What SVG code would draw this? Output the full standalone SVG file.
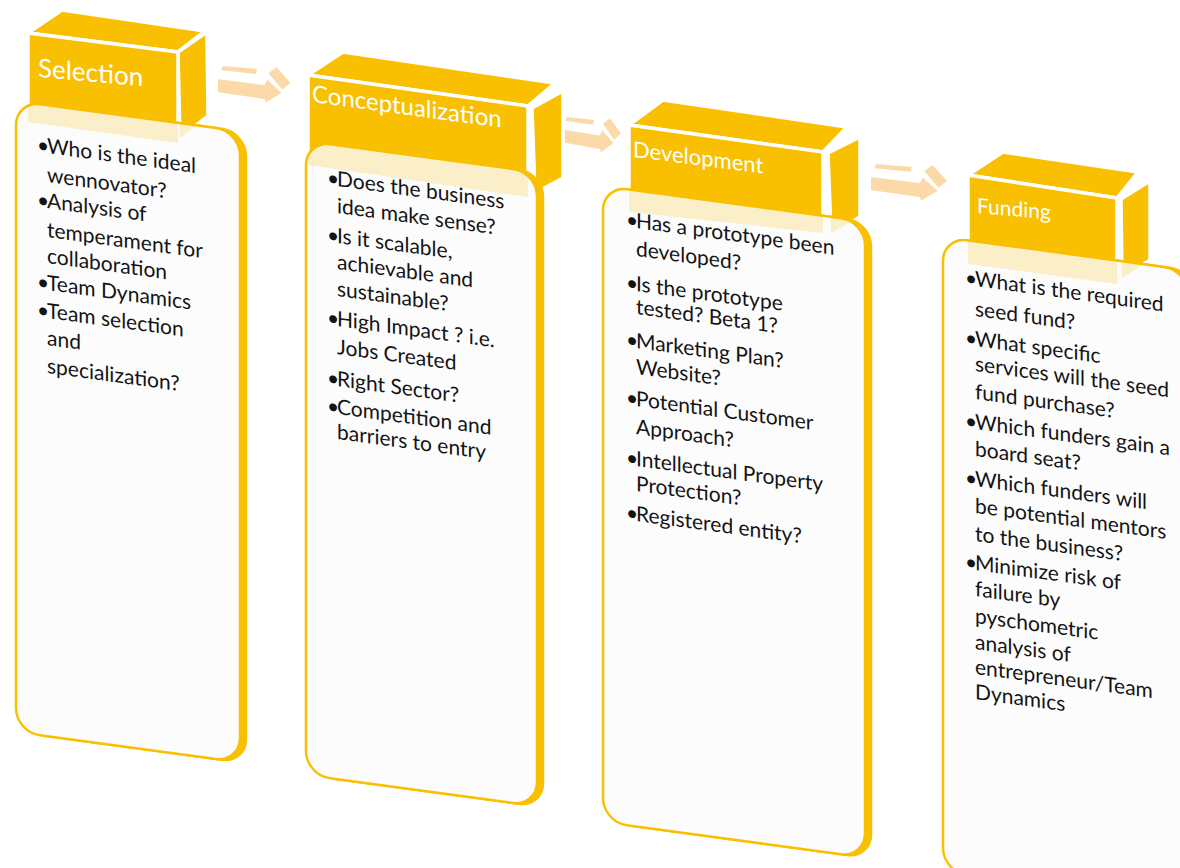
<svg xmlns="http://www.w3.org/2000/svg" width="1180" height="868" viewBox="0 0 1180 868">
<style>
.face{fill:#f8c000;stroke:#ffffff;stroke-width:3.5;stroke-linejoin:round}
.tint{fill:#f8c000;fill-opacity:0.2;stroke:none}
.card{fill:#fcfcfc;stroke:#f8c000;stroke-width:2.5}
.depth{fill:#f8c000;stroke:#f8c000;stroke-width:2.5}
.arrow{fill:#fcd9a8;stroke:#ffffff;stroke-width:2;stroke-linejoin:round}
.htxt{font-family:Lato,"Open Sans",sans-serif;fill:#ffffff}
.body{font-family:Lato,"Open Sans",sans-serif;font-size:21px;fill:#141414}
</style>
<defs>
<g id="arw">
<polygon class="arrow" points="0,13 47,19 50,13 66,28 48,39 47,35 0,28"/>
<polygon class="arrow" points="3,6 5,0 41,3 40,10"/>
<polygon class="arrow" points="50,8 60,1 75,18 65,26"/>
</g>
<clipPath id="c1"><rect transform="translate(16,101) skewY(7.7)" width="224" height="631" rx="24"/></clipPath>
<clipPath id="c2"><rect transform="translate(306,141) skewY(7.7)" width="231" height="634" rx="24"/></clipPath>
<clipPath id="c3"><rect transform="translate(603,186) skewY(7.7)" width="262" height="636" rx="24"/></clipPath>
<clipPath id="c4"><rect transform="translate(943,237) skewY(7.7)" width="245" height="635" rx="24"/></clipPath>
</defs>

<g id="connectors">
<use href="#arw" transform="translate(217,65)"/>
<use href="#arw" transform="translate(562,116) scale(0.8,0.97)"/>
<use href="#arw" transform="translate(870,163) scale(1.05,1)"/>
</g>

<g id="selection">
<polygon class="face" points="28,33 62,10 205,31 178,52"/>
<polygon class="face" points="178,52 207,32 208,116 180,138"/>
<polygon class="face" points="28,33 178,52 178,143 28,122"/>
<text class="htxt" font-size="26" transform="translate(38,77) skewY(5)">Selection</text>
<rect class="depth" transform="translate(16,101) skewY(7.7)" x="6" width="224" height="631" rx="24"/>
<rect class="card" transform="translate(16,101) skewY(7.7)" width="224" height="631" rx="24"/>
<g clip-path="url(#c1)">
<polygon class="tint" points="178,52 207,32 208,116 180,138"/>
<polygon class="tint" points="28,33 178,52 178,143 28,122"/>
</g>
<g class="body" transform="translate(16,101) skewY(7.7)">
<text x="21" y="47.8">•</text><text x="31" y="47.8">Who is the ideal</text>
<text x="31" y="76.8">wennovator?</text>
<text x="21" y="102.8">•</text><text x="31" y="102.8">Analysis of</text>
<text x="31" y="131.8">temperament for</text>
<text x="31" y="157.8">collaboration</text>
<text x="21" y="184.8">•</text><text x="31" y="184.8">Team Dynamics</text>
<text x="21" y="212.8">•</text><text x="31" y="212.8">Team selection</text>
<text x="31" y="239.8">and</text>
<text x="31" y="267.8">specialization?</text>
</g>
</g>

<g id="conceptualization">
<polygon class="face" points="308,75 343,52 555,83 528,106"/>
<polygon class="face" points="532,108 563,91 563,178 535,193"/>
<polygon class="face" points="308,75 528,106 528,197 308,165"/>
<text class="htxt" font-size="24" transform="translate(312,102) skewY(7.7)">Conceptualization</text>
<rect class="depth" transform="translate(306,141) skewY(7.7)" x="6" width="231" height="634" rx="24"/>
<rect class="card" transform="translate(306,141) skewY(7.7)" width="231" height="634" rx="24"/>
<g clip-path="url(#c2)">
<polygon class="tint" points="532,108 563,91 563,178 535,193"/>
<polygon class="tint" points="308,75 528,106 528,197 308,165"/>
</g>
<g class="body" transform="translate(306,141) skewY(7.7)">
<text x="21" y="40.8">•</text><text x="31" y="40.8">Does the business</text>
<text x="31" y="67.8">idea make sense?</text>
<text x="21" y="97.8">•</text><text x="31" y="97.8">Is it scalable,</text>
<text x="31" y="123.8">achievable and</text>
<text x="31" y="150.8">sustainable?</text>
<text x="21" y="180.8">•</text><text x="31" y="180.8">High Impact ? i.e.</text>
<text x="31" y="208.8">Jobs Created</text>
<text x="21" y="240.8">•</text><text x="31" y="240.8">Right Sector?</text>
<text x="21" y="268.8">•</text><text x="31" y="268.8">Competition and</text>
<text x="31" y="293.8">barriers to entry</text>
</g>
</g>

<g id="development">
<polygon class="face" points="629,125 663,100 847,127 823,152"/>
<polygon class="face" points="828,153 860,137 860,217 831,233"/>
<polygon class="face" points="629,125 823,152 823,233 629,212"/>
<text class="htxt" font-size="22" transform="translate(633,157) skewY(7.2)">Development</text>
<rect class="depth" transform="translate(603,186) skewY(7.7)" x="6" width="262" height="636" rx="24"/>
<rect class="card" transform="translate(603,186) skewY(7.7)" width="262" height="636" rx="24"/>
<g clip-path="url(#c3)">
<polygon class="tint" points="828,153 860,137 860,217 831,233"/>
<polygon class="tint" points="629,125 823,152 823,233 629,212"/>
</g>
<g class="body" transform="translate(603,186) skewY(7.7)">
<text x="23" y="37.5">•</text><text x="33" y="37.5">Has a prototype been</text>
<text x="33" y="65.5">developed?</text>
<text x="23" y="100.5">•</text><text x="33" y="100.5">Is the prototype</text>
<text x="33" y="123.5">tested? Beta 1?</text>
<text x="23" y="157.5">•</text><text x="33" y="157.5">Marketing Plan?</text>
<text x="33" y="183.5">Website?</text>
<text x="23" y="215.5">•</text><text x="33" y="215.5">Potential Customer</text>
<text x="33" y="243.5">Approach?</text>
<text x="23" y="275.5">•</text><text x="33" y="275.5">Intellectual Property</text>
<text x="33" y="300.5">Protection?</text>
<text x="23" y="330.5">•</text><text x="33" y="330.5">Registered entity?</text>
</g>
</g>

<g id="funding">
<polygon class="face" points="968,175 1003,152 1138,172 1117,198"/>
<polygon class="face" points="1121,199 1150,181 1150,260 1122,278"/>
<polygon class="face" points="968,175 1117,198 1117,284 968,264"/>
<text class="htxt" font-size="21" transform="translate(977,213) skewY(5)">Funding</text>
<rect class="depth" transform="translate(943,237) skewY(7.7)" x="6" width="245" height="635" rx="24"/>
<rect class="card" transform="translate(943,237) skewY(7.7)" width="245" height="635" rx="24"/>
<g clip-path="url(#c4)">
<polygon class="tint" points="1121,199 1150,181 1150,260 1122,278"/>
<polygon class="tint" points="968,175 1117,198 1117,284 968,264"/>
</g>
<g class="body" transform="translate(943,237) skewY(7.7)">
<text x="22" y="44.7">•</text><text x="32" y="44.7">What is the required</text>
<text x="32" y="74.7">seed fund?</text>
<text x="22" y="104.7">•</text><text x="32" y="104.7">What specific</text>
<text x="32" y="129.7">services will the seed</text>
<text x="32" y="157.7">fund purchase?</text>
<text x="22" y="187.7">•</text><text x="32" y="187.7">Which funders gain a</text>
<text x="32" y="214.7">board seat?</text>
<text x="22" y="244.7">•</text><text x="32" y="244.7">Which funders will</text>
<text x="32" y="271.7">be potential mentors</text>
<text x="32" y="299.7">to the business?</text>
<text x="22" y="328.7">•</text><text x="32" y="328.7">Minimize risk of</text>
<text x="32" y="354.7">failure by</text>
<text x="32" y="381.7">pyschometric</text>
<text x="32" y="407.7">analysis of</text>
<text x="32" y="432.7">entrepreneur/Team</text>
<text x="32" y="457.7">Dynamics</text>
</g>
</g>
</svg>
